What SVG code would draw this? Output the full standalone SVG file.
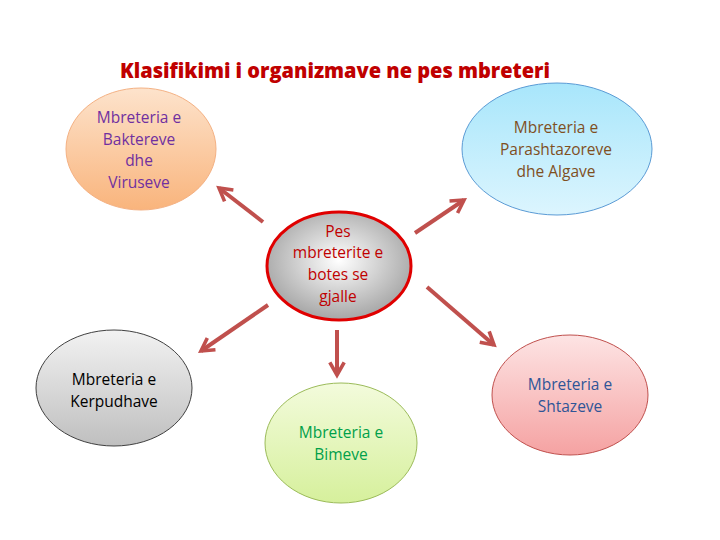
<svg xmlns="http://www.w3.org/2000/svg" width="720" height="540" viewBox="0 0 720 540">
<style>
.t{font-family:"Open Sans","Liberation Sans",sans-serif;font-size:15.5px;text-anchor:middle}
.title{font-family:"Open Sans","Liberation Sans",sans-serif;font-size:21px;font-weight:800;fill:#c00000;text-anchor:middle}
.arr{stroke:#c0504d;stroke-width:4;fill:none;marker-end:url(#ah)}
</style>
<defs>
<marker id="ah" viewBox="0 0 10 10" refX="8" refY="5" markerWidth="4.5" markerHeight="4.5" orient="auto" markerUnits="strokeWidth">
<path d="M1,1 L8,5 L1,9" fill="none" stroke="#c0504d" stroke-width="2"/>
</marker>
<linearGradient id="gOr" x1="0" y1="0" x2="0" y2="1"><stop offset="0" stop-color="#fde3cc"/><stop offset="1" stop-color="#f9b47c"/></linearGradient>
<linearGradient id="gBl" x1="0" y1="0" x2="0" y2="1"><stop offset="0" stop-color="#a8e6fb"/><stop offset="1" stop-color="#dcf5fe"/></linearGradient>
<linearGradient id="gGr" x1="0" y1="0" x2="0" y2="1"><stop offset="0" stop-color="#f2f2f2"/><stop offset="1" stop-color="#bfbfbf"/></linearGradient>
<linearGradient id="gPk" x1="0" y1="0" x2="0" y2="1"><stop offset="0" stop-color="#fde4e4"/><stop offset="1" stop-color="#f5a2a2"/></linearGradient>
<linearGradient id="gGn" x1="0" y1="0" x2="0" y2="1"><stop offset="0" stop-color="#f3fbdc"/><stop offset="1" stop-color="#d6f09c"/></linearGradient>
<radialGradient id="gC" cx="0.5" cy="0.45" r="0.55"><stop offset="0" stop-color="#ffffff"/><stop offset="1" stop-color="#a6a6a6"/></radialGradient>
</defs>
<rect width="720" height="540" fill="#ffffff"/>
<text class="title" x="335" y="78" textLength="430" lengthAdjust="spacingAndGlyphs">Klasifikimi i organizmave ne pes mbreteri</text>
<g id="connectors">
<line class="arr" x1="263" y1="222" x2="219" y2="188"/>
<line class="arr" x1="415" y1="233" x2="464" y2="200"/>
<line class="arr" x1="268" y1="305" x2="201" y2="351"/>
<line class="arr" x1="427" y1="287" x2="494" y2="345"/>
<line class="arr" x1="337" y1="330" x2="337" y2="375"/>
</g>
<g id="bakteret">
<ellipse cx="141" cy="149" rx="75" ry="61" fill="url(#gOr)" stroke="#f4b183" stroke-width="1"/>
<text class="t" fill="#7030a0"><tspan x="139" y="123">Mbreteria e</tspan><tspan x="139" y="145">Baktereve</tspan><tspan x="139" y="166">dhe</tspan><tspan x="139" y="188">Viruseve</tspan></text>
</g>
<g id="parashtazoret">
<ellipse cx="557" cy="149" rx="95" ry="66" fill="url(#gBl)" stroke="#5b9bd5" stroke-width="1"/>
<text class="t" fill="#7f4f1f"><tspan x="556" y="133">Mbreteria e</tspan><tspan x="556" y="155">Parashtazoreve</tspan><tspan x="556" y="177">dhe Algave</tspan></text>
</g>
<g id="qendra">
<ellipse cx="339" cy="266" rx="72" ry="54" fill="url(#gC)" stroke="#e00000" stroke-width="3"/>
<text class="t" fill="#c00000"><tspan x="338" y="237">Pes</tspan><tspan x="338" y="258">mbreterite e</tspan><tspan x="338" y="280">botes se</tspan><tspan x="338" y="302">gjalle</tspan></text>
</g>
<g id="kerpudhat">
<ellipse cx="114" cy="388" rx="78" ry="58" fill="url(#gGr)" stroke="#404040" stroke-width="1"/>
<text class="t" fill="#000000"><tspan x="114" y="385">Mbreteria e</tspan><tspan x="114" y="407">Kerpudhave</tspan></text>
</g>
<g id="shtazet">
<ellipse cx="570" cy="395" rx="78" ry="60" fill="url(#gPk)" stroke="#c0504d" stroke-width="1"/>
<text class="t" fill="#2f5597"><tspan x="570" y="390">Mbreteria e</tspan><tspan x="570" y="412">Shtazeve</tspan></text>
</g>
<g id="bimet">
<ellipse cx="341" cy="443" rx="76" ry="60" fill="url(#gGn)" stroke="#9bbb59" stroke-width="1"/>
<text class="t" fill="#00a04a"><tspan x="341" y="438">Mbreteria e</tspan><tspan x="341" y="460">Bimeve</tspan></text>
</g>
</svg>
